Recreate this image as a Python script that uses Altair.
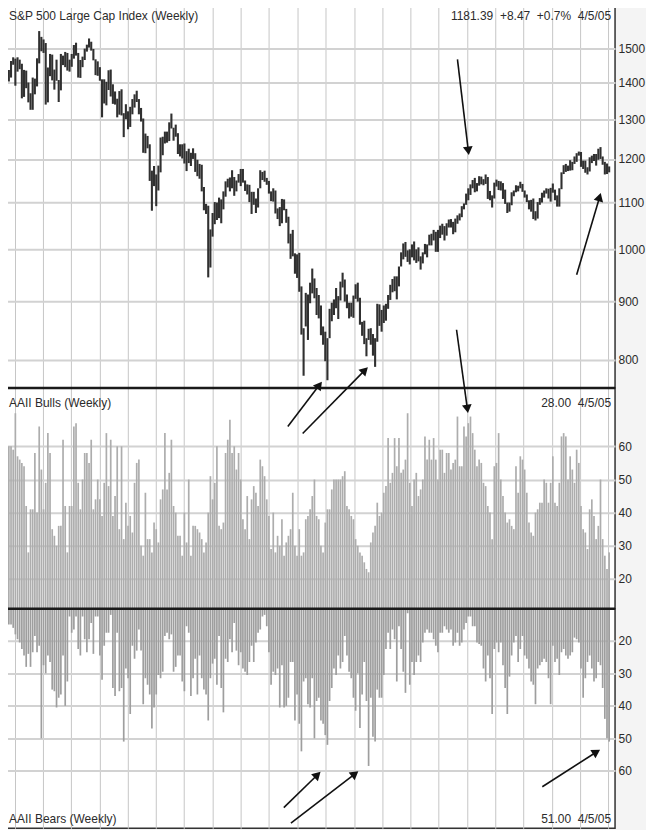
import altair as alt
import pandas as pd

# ---------------- data ----------------
first_week = "1999-12-13"   # Monday of the first weekly bar

sp_high = [
    1436, 1462, 1473,
    1469, 1473, 1466, 1454, 1436, 1434, 1400, 1370, 1414, 1411, 1470, 1553, 1535, 1527, 1516, 1443, 1483, 1481, 1437, 1466,
    1407, 1483, 1478, 1489, 1486, 1466, 1483, 1510, 1517, 1486, 1465, 1475, 1499, 1511, 1530, 1520, 1498, 1467, 1461, 1444,
    1409, 1409, 1402, 1435, 1437, 1395, 1375, 1355, 1376, 1381, 1316, 1340,
    1321, 1333, 1354, 1367, 1377, 1354, 1330, 1302, 1263, 1257, 1236, 1172, 1183, 1163, 1184, 1253, 1255, 1268, 1268, 1292,
    1315, 1278, 1286, 1264, 1236, 1236, 1238, 1219, 1225, 1215, 1226, 1214, 1198, 1188, 1186, 1134, 1096, 1092, 1041, 1076,
    1100, 1099, 1110, 1106, 1124, 1147, 1153, 1156, 1173, 1157, 1149, 1164,
    1176, 1176, 1149, 1140, 1139, 1123, 1123, 1108, 1131, 1173, 1169, 1172, 1155, 1148, 1124, 1131, 1126, 1086, 1089, 1107,
    1106, 1085, 1068, 1032, 1040, 992, 990, 993, 928, 853, 916, 913, 935, 962, 943, 925, 912, 893, 856, 847,
    836, 887, 898, 904, 925, 910, 937, 954, 941, 913, 898, 898,
    911, 932, 935, 907, 864, 866, 836, 852, 853, 843, 836, 896, 895, 885, 893, 896, 912, 931, 942, 947,
    947, 966, 994, 1012, 1015, 998, 1000, 1010, 1016, 1000, 1004, 986, 994, 1011, 1010, 1030, 1032, 1040, 1036, 1040,
    1049, 1053, 1048, 1054, 1062, 1063, 1057, 1064, 1071, 1075, 1091, 1097,
    1119, 1131, 1140, 1150, 1155, 1143, 1159, 1158, 1152, 1163, 1157, 1125, 1115, 1144, 1151, 1148, 1147, 1143, 1128, 1099,
    1099, 1122, 1126, 1138, 1137, 1146, 1141, 1126, 1117, 1104, 1105, 1108, 1080, 1100, 1109, 1121, 1126, 1131, 1130, 1132,
    1142, 1128, 1115, 1131, 1168, 1185, 1188, 1184, 1197, 1193, 1206, 1214, 1218,
    1217, 1196, 1196, 1180, 1204, 1208, 1212, 1212, 1225, 1229, 1206, 1193, 1189, 1182,
]

sp_low = [
    1403, 1414, 1451,
    1391, 1431, 1438, 1356, 1360, 1384, 1345, 1325, 1325, 1367, 1389, 1455, 1491, 1486, 1339, 1345, 1418, 1406, 1380, 1405,
    1346, 1378, 1450, 1444, 1434, 1431, 1445, 1469, 1478, 1414, 1413, 1444, 1465, 1490, 1502, 1493, 1464, 1421, 1419, 1405,
    1305, 1342, 1337, 1379, 1361, 1341, 1339, 1305, 1312, 1310, 1254, 1300,
    1274, 1280, 1313, 1331, 1346, 1313, 1294, 1215, 1214, 1226, 1148, 1081, 1136, 1091, 1126, 1168, 1209, 1238, 1240, 1244,
    1276, 1245, 1255, 1212, 1206, 1201, 1189, 1171, 1190, 1183, 1200, 1169, 1159, 1153, 1124, 1082, 1074, 945, 964, 1026,
    1052, 1061, 1065, 1054, 1084, 1112, 1133, 1124, 1131, 1114, 1124, 1144,
    1136, 1144, 1125, 1117, 1100, 1074, 1094, 1076, 1088, 1131, 1150, 1146, 1139, 1119, 1102, 1101, 1075, 1063, 1048, 1054,
    1082, 1055, 1012, 981, 986, 952, 944, 918, 842, 775, 856, 833, 897, 915, 906, 876, 870, 841, 825, 798,
    768, 836, 865, 876, 888, 869, 902, 926, 900, 888, 870, 873,
    871, 905, 900, 859, 840, 826, 806, 833, 825, 807, 789, 830, 857, 847, 862, 866, 887, 903, 917, 919,
    904, 928, 966, 980, 985, 975, 970, 984, 978, 973, 976, 960, 972, 990, 984, 1008, 1008, 1018, 995, 995,
    1023, 1030, 1018, 1028, 1045, 1045, 1031, 1035, 1053, 1060, 1067, 1084,
    1094, 1104, 1116, 1131, 1122, 1124, 1137, 1140, 1138, 1141, 1107, 1104, 1088, 1108, 1135, 1127, 1126, 1107, 1096, 1076,
    1079, 1093, 1113, 1122, 1124, 1131, 1123, 1110, 1100, 1084, 1079, 1063, 1060, 1064, 1094, 1099, 1110, 1119, 1108, 1101,
    1121, 1104, 1090, 1090, 1129, 1164, 1169, 1171, 1172, 1173, 1188, 1193, 1208,
    1181, 1176, 1167, 1163, 1170, 1190, 1195, 1184, 1198, 1200, 1186, 1163, 1164, 1168,
]

bulls = [
    60, 60, 59, 70, 57, 56, 55, 54, 42, 28, 41, 41, 58, 40, 66, 53, 41, 49, 64, 58,
    35, 33, 30, 36, 36, 62, 42, 28, 42, 42, 66, 67, 49, 41, 50, 58, 58, 55, 62, 41,
    44, 50, 44, 39, 49, 64, 48, 62, 39, 45, 60, 35, 60, 32, 43, 36, 39, 34, 49, 55,
    56, 30, 27, 46, 32, 32, 28, 37, 35, 31, 44, 47, 64, 47, 52, 62, 42, 40, 33, 33,
    27, 40, 31, 50, 27, 36, 36, 35, 34, 32, 28, 31, 40, 51, 44, 49, 60, 36, 35, 37,
    58, 62, 68, 58, 60, 53, 58, 50, 38, 35, 45, 32, 44, 48, 46, 42, 56, 54, 51, 44,
    39, 29, 40, 28, 33, 30, 38, 27, 31, 33, 35, 46, 30, 27, 35, 27, 28, 38, 39, 41,
    45, 50, 39, 38, 30, 28, 37,
    41, 41, 47, 50, 50, 50, 50, 51, 52.5, 42, 41, 39, 38, 32, 30, 28, 27, 25, 23, 22,
    31, 34, 36, 43, 39, 40, 46, 48, 62.5, 49, 52, 62.5, 54, 62.5, 52, 53, 56, 70, 49, 42,
    50, 52, 45, 47, 50, 63, 56, 62, 56, 62.5, 56, 50, 59, 59, 52, 58, 58, 53, 55, 56,
    69, 54, 54, 66, 63, 67, 69, 64, 59, 54, 56, 55, 49, 48, 42, 40, 32, 54, 55, 64,
    50, 45, 40, 37, 38, 36, 35, 54, 46, 57, 56, 53, 46, 37, 34, 33, 40, 41, 43, 43,
    50, 49, 43, 49, 57, 43, 42, 49, 63, 64, 63, 50, 57, 53, 49, 59, 55, 42, 35, 34,
    29, 41, 44, 39, 32, 36, 50, 32, 27, 23, 28,
]

bears = [
    15, 15, 16, 18, 19.5, 20.5, 22.5, 24.5, 28, 24, 28, 23.5, 18.5, 23.5, 21.5, 50, 27.5, 30, 24.5, 26.5,
    35, 35.5, 40.5, 37.5, 36.5, 24.5, 40, 32.5, 12.5, 17.5, 16.5, 12.5, 22.5, 24.5, 12.5, 19.5, 23.5, 19.5, 14.5, 24,
    12.5, 12.5, 24.5, 32, 21.5, 17.5, 17.5, 12, 34.5, 37, 17.5, 35.5, 34.5, 51, 28.5, 31.5, 42.5, 21.5, 25.5, 23,
    16.5, 23, 39.5, 31.5, 33.5, 36.5, 47, 40.5, 36.5, 30.5, 31.5, 29.5, 18.5, 17.5, 19.5, 18, 29.5, 28, 24.5, 24.5,
    32.5, 35.5, 15.5, 17.5, 37, 31.5, 25.5, 36.5, 24.5, 31.5, 35, 36.5, 44.5, 31.5, 27, 25.5, 33.5, 18.5, 34.5, 42,
    25.5, 26.5, 19.5, 23.5, 14.5, 23, 27.5, 23.5, 28.5, 29.5, 30.5, 26.5, 21.5, 26.5, 20.5, 17.5, 16.5, 12.5, 12, 15.5,
    23.5, 33.5, 29.5, 30.5, 28.5, 40.5, 27.5, 40.5, 40, 37.5, 26.5, 26.5, 44.5, 36.5, 45.5, 54, 32.5, 31.5, 39.5, 40.5,
    31.5, 50, 38.5, 37.5, 44.5, 45.5, 49,
    52, 38.5, 34.5, 28.5, 30.5, 24.5, 28.5, 26.5, 18.5, 24.5, 29.5, 31.5, 37.5, 41.5, 30, 46.8, 36.5, 26.5, 38.5, 58.5,
    37.5, 49.5, 51, 35, 37.5, 37.5, 30.5, 22.5, 17.5, 22.5, 16.5, 19.5, 32.5, 15.5, 22.5, 29.5, 36, 11.5, 33.5, 26.5,
    30.5, 26.5, 24.5, 26.5, 20.5, 17.5, 16.5, 17.5, 17.5, 19.5, 21.5, 23.5, 17.5, 17.5, 15.5, 16.5, 17.5, 16.5, 21.5, 20.5,
    17.5, 21.5, 20.5, 16.5, 14.5, 12.5, 12.5, 15.5, 15.5, 20.5, 21, 21.5, 28.5, 32.5, 24.5, 31.5, 42.5, 22.5, 20.5, 23.5,
    20.5, 27.5, 34.5, 42.5, 31, 24.5, 20.5, 18.5, 26.5, 22.5, 18.5, 24.5, 25.5, 28.5, 32.5, 33.5, 39.5, 28.5, 27.5, 26.5,
    25.5, 26.5, 31.5, 39.5, 21.5, 26.5, 25.5, 30.5, 23.5, 22.5, 24.5, 25.5, 24.5, 23.5, 19, 19.5, 20.5, 28.5, 37.5, 31.5,
    26.5, 24.5, 28.5, 32.5, 31.5, 26.5, 27.5, 34.5, 44, 50, 51,
]

price_ticks = [800, 900, 1000, 1100, 1200, 1300, 1400, 1500]
pct_ticks = [20, 30, 40, 50, 60]

sp_title = "S&P 500 Large Cap Index (Weekly)"
sp_last = "1181.39\u00a0\u00a0+8.47\u00a0\u00a0+0.7%\u00a0\u00a04/5/05"
bulls_title = "AAII Bulls (Weekly)"
bulls_last = "28.00\u00a0\u00a04/5/05"
bears_title = "AAII Bears (Weekly)"
bears_last = "51.00\u00a0\u00a04/5/05"

# annotation arrows (tail date, tail value, head date, head value, head angle)
top_arrow_t0 = ["2003-12-01", "2004-12-20"]
top_arrow_v0 = [1467, 950]
top_arrow_t1 = ["2004-01-05", "2005-03-04"]
top_arrow_v1 = [1220, 1111]
top_arrow_ang = [173, 16]

bull_arrow_t0 = ["2002-06-01", "2002-07-19", "2003-11-28"]
bull_arrow_v0 = [66, 63.9, 95.2]
bull_arrow_t1 = ["2002-09-11", "2003-02-05", "2004-01-02"]
bull_arrow_v1 = [78.5, 83, 71.3]
bull_arrow_ang = [37, 45, 172]

bear_arrow_t0 = ["2002-05-19", "2002-06-11", "2004-08-31"]
bear_arrow_v0 = [71.3, 76.1, 64.9]
bear_arrow_t1 = ["2002-09-05", "2003-01-04", "2005-02-22"]
bear_arrow_v1 = [61.2, 60.9, 54.2]
bear_arrow_ang = [46, 52, 58]

# ---------------- tables ----------------
weeks = pd.date_range(first_week, periods=len(sp_high), freq="7D")
df = pd.DataFrame({"date": weeks, "high": sp_high, "low": sp_low,
                   "bulls": bulls, "bears": bears})

def arrows(t0, v0, t1, v1, ang):
    return pd.DataFrame({"t0": pd.to_datetime(t0), "v0": v0,
                         "t1": pd.to_datetime(t1), "v1": v1, "ang": ang})

top_arr = arrows(top_arrow_t0, top_arrow_v0, top_arrow_t1, top_arrow_v1, top_arrow_ang)
bull_arr = arrows(bull_arrow_t0, bull_arrow_v0, bull_arrow_t1, bull_arrow_v1, bull_arrow_ang)
bear_arr = arrows(bear_arrow_t0, bear_arrow_v0, bear_arrow_t1, bear_arrow_v1, bear_arrow_ang)

# ---------------- layout / style ----------------
W, H1, H2, H3 = 609, 384, 221, 220
FONT = "Liberation Sans"
TXT = "#2b2b2b"

x_scale = alt.Scale(domain=[alt.DateTime(year=1999, month=12, date=7),
                            alt.DateTime(year=2005, month=4, date=23)])
x_axis = alt.Axis(title=None, labels=False, ticks=False, domain=False, grid=True,
                  gridColor="#c6c6c6", gridWidth=1,
                  tickCount={"interval": "month", "step": 3})

def X(field):
    return alt.X(field, type="temporal", scale=x_scale, axis=x_axis)

def y_axis(vals):
    return alt.Axis(title=None, orient="right", values=vals, format="d", grid=True,
                    gridColor="#d2d2d2", gridWidth=2, domain=False, ticks=False,
                    labelPadding=3, labelFont=FONT, labelFontSize=12, labelColor=TXT)

top_scale = alt.Scale(type="log", domain=[756, 1638], nice=False)
bull_scale = alt.Scale(domain=[11, 77.6], zero=False, nice=False)
bear_scale = alt.Scale(domain=[10.1, 77.7], zero=False, nice=False, reverse=True)

def Ytop(field):
    return alt.Y(field, type="quantitative", scale=top_scale, axis=y_axis(price_ticks))

def Ybull(field):
    return alt.Y(field, type="quantitative", scale=bull_scale, axis=y_axis(pct_ticks))

def Ybear(field):
    return alt.Y(field, type="quantitative", scale=bear_scale, axis=y_axis(pct_ticks))

def label(text, x, y, align):
    return alt.Chart(pd.DataFrame({"t": [text]})).mark_text(
        font=FONT, fontSize=12, color=TXT, align=align, baseline="middle"
    ).encode(x=alt.value(x), y=alt.value(y), text="t:N")

def arrow_layers(data, Yf):
    base = alt.Chart(data)
    line = base.mark_rule(color="#111111", strokeWidth=1.6).encode(
        x=X("t0"), y=Yf("v0"), x2="t1", y2="v1")
    head = base.mark_point(shape="triangle-up", filled=True, size=95,
                           color="#111111", opacity=1).encode(
        x=X("t1"), y=Yf("v1"), angle=alt.Angle("ang:Q", scale=None))
    return [line, head]

def divider():
    return alt.Chart(pd.DataFrame({"d": [0]})).mark_rule(
        color="#1a1a1a", strokeWidth=2.5).encode(
        x=alt.value(0), x2=alt.value(W), y=alt.value(0))

# top panel: weekly price ranges
price = alt.Chart(df).mark_rule(color="#303030", strokeWidth=2.1).encode(
    x=X("date"), y=Ytop("low"), y2="high")
top = alt.layer(
    price,
    label(sp_title, 2, 11, "left"),
    label(sp_last, W - 4, 11, "right"),
    *arrow_layers(top_arr, Ytop),
).properties(width=W, height=H1)

# bulls panel
bull_bars = alt.Chart(df).mark_rule(color="#adadad", strokeWidth=1.7).encode(
    x=X("date"), y=Ybull("bulls"), y2=alt.value(H2))
bull_panel = alt.layer(
    bull_bars,
    divider(),
    label(bulls_title, 2, 15, "left"),
    label(bulls_last, W - 4, 15, "right"),
    *arrow_layers(bull_arr, Ybull),
).properties(width=W, height=H2)

# bears panel
bear_bars = alt.Chart(df).mark_rule(color="#9e9e9e", strokeWidth=1.7).encode(
    x=X("date"), y=Ybear("bears"), y2=alt.value(0))
bear_panel = alt.layer(
    bear_bars,
    divider(),
    label(bears_title, 2, H3 - 9, "left"),
    label(bears_last, W - 4, H3 - 9, "right"),
    *arrow_layers(bear_arr, Ybear),
).properties(width=W, height=H3)

chart = alt.vconcat(top, bull_panel, bear_panel, spacing=0, bounds="flush").properties(
    padding={"left": -3, "top": -5, "right": 0, "bottom": 0},
    background="#f4f4f4"
).configure_view(stroke="#333333", strokeWidth=1.5, fill="white")

chart.save("out.html", embed_options={"renderer": "svg", "actions": False})
